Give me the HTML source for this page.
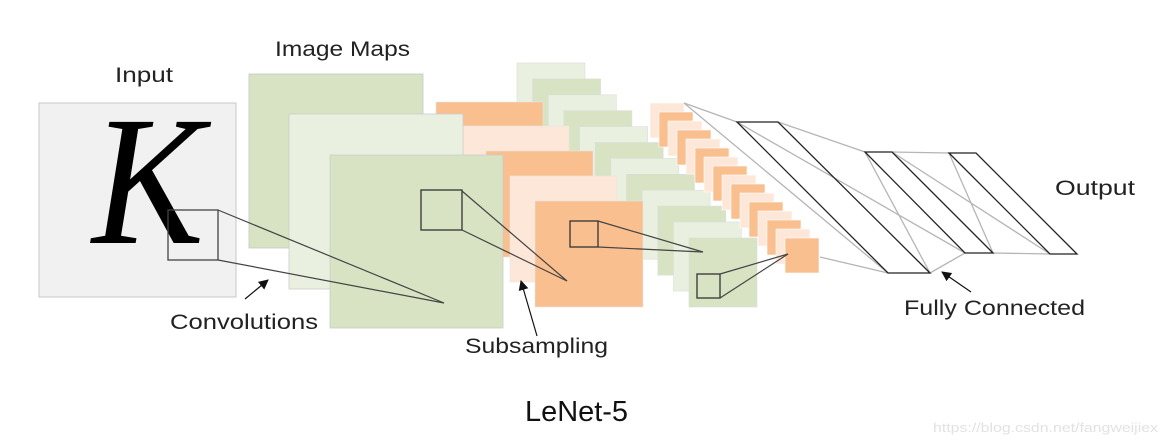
<!DOCTYPE html>
<html><head><meta charset="utf-8"><style>
html,body{margin:0;padding:0;background:#fff;}
svg{display:block;font-family:"Liberation Sans",sans-serif;}
</style></head><body>
<svg width="1167" height="445" viewBox="0 0 1167 445" xmlns="http://www.w3.org/2000/svg">
<defs>
<marker id="ah" markerWidth="10" markerHeight="10" refX="9" refY="5" orient="auto" markerUnits="userSpaceOnUse">
<path d="M0,0 L10,5 L0,10 z" fill="#111"/>
</marker>
</defs>
<!-- Input -->
<rect x="39" y="103" width="197" height="194" fill="#f1f1f1" stroke="#c8c8c8" stroke-width="1"/>
<text x="92" y="243" font-family="Liberation Serif,serif" font-style="italic" font-size="185" fill="#000" textLength="112" lengthAdjust="spacingAndGlyphs">K</text>
<!-- C3 stack -->
<g stroke="#ddd" stroke-width="0.6">
<rect x="517" y="63" width="68" height="69" fill="#e9f0df"/>
<rect x="532.6" y="78.9" width="68" height="69" fill="#d7e3c3"/>
<rect x="548.3" y="94.8" width="68" height="69" fill="#e9f0df"/>
<rect x="563.9" y="110.7" width="68" height="69" fill="#d7e3c3"/>
<rect x="579.6" y="126.6" width="68" height="69" fill="#e9f0df"/>
<rect x="595.2" y="142.5" width="68" height="69" fill="#d7e3c3"/>
<rect x="610.8" y="158.4" width="68" height="69" fill="#e9f0df"/>
<rect x="626.5" y="174.3" width="68" height="69" fill="#d7e3c3"/>
<rect x="642.1" y="190.2" width="68" height="69" fill="#e9f0df"/>
<rect x="657.8" y="206.1" width="68" height="69" fill="#d7e3c3"/>
<rect x="673.4" y="222" width="68" height="69" fill="#e9f0df"/>
<rect x="689" y="238" width="68" height="69" fill="#d7e3c3"/>
</g>
<!-- S2 stack -->
<g stroke="#e6e6e6" stroke-width="0.6">
<rect x="436" y="102" width="107" height="106" fill="#f9bf8f"/>
<rect x="462" y="126" width="107" height="106" fill="#fde7d8"/>
<rect x="486" y="151" width="107" height="106" fill="#f9bf8f"/>
<rect x="510" y="176" width="107" height="106" fill="#fde7d8"/>
<rect x="535" y="201" width="108" height="106" fill="#f9bf8f"/>
</g>
<!-- C1 image maps (on top of S2 back layers) -->
<rect x="249" y="74" width="174" height="174" fill="#d7e3c3" stroke="#c8c8c8" stroke-width="0.8"/>
<rect x="289" y="114" width="174" height="175" fill="#e9f0df" stroke="#ccc" stroke-width="0.8"/>
<rect x="330" y="155" width="173" height="173" fill="#d7e3c3" stroke="#ccc" stroke-width="0.8"/>
<rect x="168" y="210" width="50" height="50" fill="none" stroke="#444" stroke-width="1.3"/>
<line x1="218" y1="210" x2="444" y2="303" stroke="#444" stroke-width="1.2"/>
<line x1="218" y1="260" x2="444" y2="303" stroke="#444" stroke-width="1.2"/>
<rect x="421" y="190" width="41" height="40" fill="none" stroke="#333" stroke-width="1.3"/>
<line x1="462" y1="191" x2="567" y2="281" stroke="#444" stroke-width="1.2"/>
<line x1="462" y1="230" x2="567" y2="281" stroke="#444" stroke-width="1.2"/>
<rect x="570" y="221" width="28" height="26" fill="none" stroke="#333" stroke-width="1.3"/>
<line x1="598" y1="221" x2="703" y2="252" stroke="#444" stroke-width="1.2"/>
<line x1="598" y1="247" x2="703" y2="252" stroke="#444" stroke-width="1.2"/>
<!-- S4 stack -->
<g stroke="#fff" stroke-width="0.6">
<rect x="650" y="103" width="34" height="35" fill="#fde7d8"/>
<rect x="659" y="112" width="34" height="35" fill="#f9bf8f"/>
<rect x="668" y="121" width="34" height="35" fill="#fde7d8"/>
<rect x="677" y="130" width="34" height="35" fill="#f9bf8f"/>
<rect x="686" y="139" width="34" height="35" fill="#fde7d8"/>
<rect x="695" y="148" width="34" height="35" fill="#f9bf8f"/>
<rect x="704" y="157" width="34" height="35" fill="#fde7d8"/>
<rect x="713" y="166" width="34" height="35" fill="#f9bf8f"/>
<rect x="722" y="175" width="34" height="35" fill="#fde7d8"/>
<rect x="731" y="184" width="34" height="35" fill="#f9bf8f"/>
<rect x="740" y="193" width="34" height="35" fill="#fde7d8"/>
<rect x="749" y="202" width="34" height="35" fill="#f9bf8f"/>
<rect x="758" y="211" width="34" height="35" fill="#fde7d8"/>
<rect x="767" y="220" width="34" height="35" fill="#f9bf8f"/>
<rect x="776" y="229" width="34" height="35" fill="#fde7d8"/>
<rect x="785" y="238" width="34" height="35" fill="#f9bf8f"/>
</g>
<rect x="697" y="274" width="23" height="24" fill="none" stroke="#333" stroke-width="1.3"/>
<line x1="720" y1="274" x2="788" y2="254" stroke="#444" stroke-width="1.2"/>
<line x1="720" y1="298" x2="788" y2="254" stroke="#444" stroke-width="1.2"/>
<!-- FC gray connectors -->
<g stroke="#b5b5b5" stroke-width="1.3" fill="none">
<line x1="684" y1="103" x2="737" y2="122"/>
<line x1="684" y1="103" x2="888" y2="273"/>
<line x1="820" y1="257" x2="888" y2="273"/>
<line x1="737" y1="122" x2="965" y2="253"/>
<line x1="778" y1="122" x2="865" y2="152"/>
<line x1="930" y1="273" x2="865" y2="152"/>
<line x1="930" y1="273" x2="965" y2="253"/>
<line x1="892" y1="152" x2="949" y2="153"/>
<line x1="892" y1="152" x2="1050" y2="254"/>
<line x1="993" y1="253" x2="949" y2="153"/>
<line x1="993" y1="253" x2="1050" y2="254"/>
</g>
<g stroke="#222" stroke-width="1.3" fill="none">
<polygon points="737,122 778,122 930,273 888,273"/>
<polygon points="865,152 892,152 993,253 965,253"/>
<polygon points="949,153 976,153 1077,254 1050,254"/>
</g>
<!-- arrows -->
<line x1="245" y1="299" x2="268" y2="280" stroke="#111" stroke-width="1.2" marker-end="url(#ah)"/>
<line x1="537" y1="336" x2="521" y2="281" stroke="#111" stroke-width="1.2" marker-end="url(#ah)"/>
<line x1="971" y1="292" x2="942" y2="272" stroke="#111" stroke-width="1.2" marker-end="url(#ah)"/>
<!-- labels -->
<g fill="#222" font-size="21">
<text x="115" y="82" textLength="58" lengthAdjust="spacingAndGlyphs">Input</text>
<text x="275" y="56" textLength="135" lengthAdjust="spacingAndGlyphs">Image Maps</text>
<text x="1055" y="195" textLength="80" lengthAdjust="spacingAndGlyphs">Output</text>
<text x="170" y="329" textLength="148" lengthAdjust="spacingAndGlyphs">Convolutions</text>
<text x="465" y="353" textLength="143" lengthAdjust="spacingAndGlyphs">Subsampling</text>
<text x="904" y="315" textLength="181" lengthAdjust="spacingAndGlyphs">Fully Connected</text>
</g>
<text x="525" y="421" font-size="29" fill="#111" textLength="103" lengthAdjust="spacingAndGlyphs">LeNet-5</text>
<text x="933" y="432" font-size="13" fill="#e2e2e2" textLength="225" lengthAdjust="spacingAndGlyphs">https://blog.csdn.net/fangweijiex</text>
</svg>
</body></html>
